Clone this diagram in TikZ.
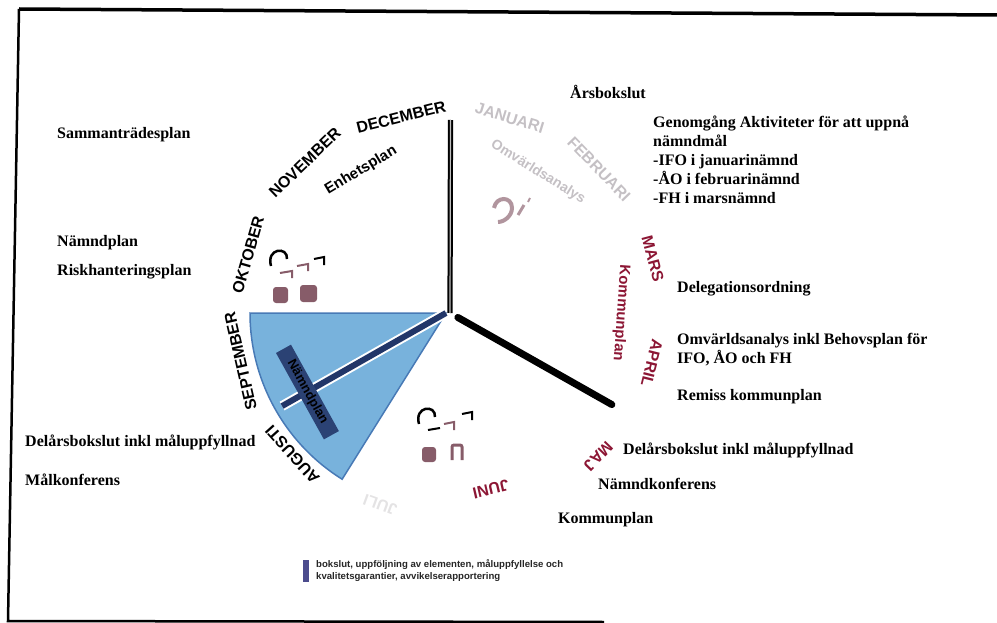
\documentclass[tikz,border=0pt]{standalone}
\usepackage{fontspec}
\setmainfont{Liberation Serif}
\setsansfont{Liberation Sans}
\usetikzlibrary{positioning}
\definecolor{maroon}{RGB}{140,22,52}
\definecolor{faded}{RGB}{196,192,196}
\definecolor{sectorblue}{RGB}{120,178,220}
\definecolor{sectoredge}{RGB}{72,122,182}
\definecolor{navy}{RGB}{34,54,104}
\definecolor{iconred}{RGB}{135,92,105}

\begin{document}
\begin{tikzpicture}[x=1pt,y=-1pt,
		plan label/.style={inner sep=0pt,anchor=west,align=left,font=\fontsize{16}{19}\selectfont\bfseries},
		month label/.style={inner sep=0pt,font=\sffamily\fontsize{16}{16}\selectfont\bfseries},
		wheel line/.style={line width=7pt,line cap=round}]
		
		\useasboundingbox (0,0) rectangle (997,623);
		\draw[line width=3.5pt] (997,15) -- (19,9);
		\draw[line width=2.5pt] (19,9) -- (8,621) -- (604,622);
		
		\begin{scope}[shift={(450,313)},y=1pt]
			\coordinate (hub) at (0,0);
			\filldraw[fill=sectorblue,draw=sectoredge,line width=1.5pt] (-4,0) -- (-200,0) arc[start angle=180,end angle=238,radius=196] -- cycle;
			\draw[white,line width=10pt] (-4,0) -- (209:192);
			\draw[navy,line width=6pt] (-4,0) -- (209:192);
			\node[rotate=-61,fill=navy!90!sectorblue,inner xsep=14pt,inner ysep=2.5pt,font=\sffamily\fontsize{13}{13}\selectfont\bfseries] (namndplanbox) at (209:163) {Nämndplan};
			
			\draw[line width=2pt,double=white!75!black,double distance=1.2pt] (hub) -- (0.5,193);
			\draw[wheel line] (-29.5:9) -- (-29.5:186);
			
			\foreach \month/\ang/\rad/\col in {JANUARI/73/204/faded, FEBRUARI/44/207/faded, MARS/15/210/maroon, APRIL/346/208/maroon, MAJ/316/206/maroon, JUNI/283/181/maroon, JULI/250/204/faded!45!white, AUGUSTI/222/212/black, SEPTEMBER/193/215/black, OKTOBER/164/210/black, NOVEMBER/134/209/black, DECEMBER/104/202/black}
				\node[month label,text=\col,rotate=\ang-90] (\month) at (\ang:\rad) {\month};
			
			\node[month label,text=maroon,rotate=-94,font=\sffamily\fontsize{15}{15}\selectfont\bfseries] (kommunplanarc) at (0:171) {Kommunplan};
			\node[month label,rotate=31,font=\sffamily\fontsize{15}{15}\selectfont\bfseries] (enhetsplan) at (122:168) {Enhetsplan};
			\node[month label,text=faded,rotate=-32,font=\sffamily\fontsize{14}{14}\selectfont\bfseries] (omvarldarc) at (58:166) {Omvärldsanalys};
		\end{scope}
		
		\draw[line width=2.5pt] (271,266) .. controls (266,248) and (288,246) .. (287,259);
		\draw[iconred,line width=2pt] (280,273) -- (292,271) -- (292,278);
		\draw[iconred,line width=2pt] (297,266) -- (308,264) -- (308,271);
		\draw[line width=2pt] (314,259) -- (324,257) -- (324,265);
		\fill[iconred,rounded corners=3pt] (273,287) rectangle (288,303);
		\fill[iconred,rounded corners=3pt] (300,285) rectangle (317,302);
		\draw[line width=2.5pt] (419,424) .. controls (414,406) and (436,404) .. (435,417);
		\draw[line width=2pt] (428,430) -- (440,428);
		\draw[iconred,line width=2pt] (444,424) -- (454,422) -- (454,430);
		\draw[line width=2pt] (462,414) -- (472,412) -- (472,420);
		\fill[iconred,rounded corners=3pt] (422,447) rectangle (436,462);
		\draw[iconred,line width=3pt,rounded corners=2pt] (452,460) -- (452,445) -- (462,445) -- (462,460);
		\draw[iconred!65!white,line width=4pt] (494,208) .. controls (496,196) and (512,196) .. (512,208) .. controls (512,216) and (504,222) .. (498,222);
		\draw[iconred!65!white,line width=3pt] (518,215) -- (524,205);
		\draw[iconred!65!white,line width=2pt] (528,202) -- (530,198);
		
		\node[plan label] (arsbokslut) at (570,92) {Årsbokslut};
		\node[plan label,anchor=north west] (genomgang) at (653,116) {Genomgång Aktiviteter för att uppnå\\nämndmål\\-IFO i januarinämnd\\-ÅO i februarinämnd\\-FH i marsnämnd};
		\node[plan label] (delegation) at (677,289) {Delegationsordning};
		\node[plan label] (omvarldsanalys) at (677,349.5) {Omvärldsanalys inkl Behovsplan för\\IFO, ÅO och FH};
		\node[plan label] (remiss) at (677,397) {Remiss kommunplan};
		\node[plan label] (delarsright) at (623,450) {Delårsbokslut inkl måluppfyllnad};
		\node[plan label] (namndkonferens) at (598,484) {Nämndkonferens};
		\node[plan label] (kommunplan) at (558,520) {Kommunplan};
		
		\node[plan label] (sammantradesplan) at (57,135) {Sammanträdesplan};
		\node[plan label] (namndplan) at (57,243) {Nämndplan};
		\node[plan label,below=29pt of namndplan.west,anchor=west] (riskplan) {Riskhanteringsplan};
		\node[plan label] (delarsleft) at (25,442) {Delårsbokslut inkl måluppfyllnad};
		\node[plan label,below=38pt of delarsleft.west,anchor=west] (malkonferens) {Målkonferens};
		
		\fill[gray!70!blue!85!black] (303,560) rectangle (309,582);
		\node[plan label,text=black!85,font=\sffamily\fontsize{9.6}{12}\selectfont\bfseries] (legend) at (316,571) {bokslut, uppföljning av elementen, måluppfyllelse och\\kvalitetsgarantier, avvikelserapportering};
\end{tikzpicture}
\end{document}
